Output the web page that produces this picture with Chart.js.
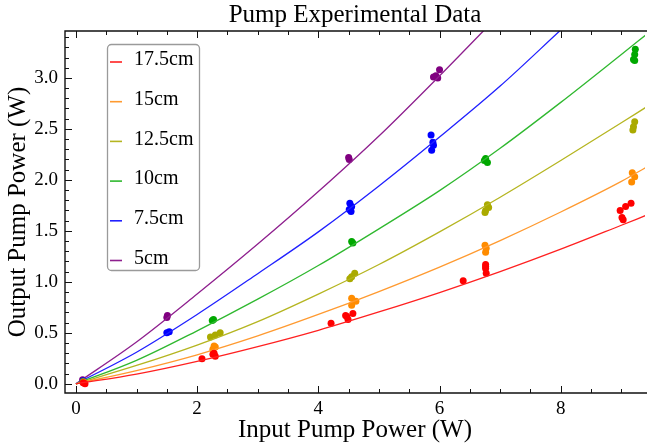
<!DOCTYPE html>
<html lang="en">
<head>
<meta charset="UTF-8" />
<title>Pump Experimental Data</title>
<script src="https://cdn.jsdelivr.net/npm/chart.js"></script>
<style>
  html, body { margin: 0; padding: 0; background: #fff; }
  #wrap { width: 649px; height: 443px; position: relative; }
</style>
</head>
<body>
<div id="wrap"><canvas id="pumpChart"></canvas></div>
<script>
  // series (fibre lengths), colours
  const seriesLabels = ['17.5cm', '15cm', '12.5cm', '10cm', '7.5cm', '5cm'];
  const lineColors  = ['#ff2020', '#ff9a30', '#b5b520', '#2fb82f', '#2020ff', '#8e1f8e'];
  const pointColors = ['#ff0000', '#ff8c00', '#aaaa00', '#00a800', '#0000ff', '#800080'];

  // fitted curves at these input powers
  const fitX = [0, 1, 2, 3, 4, 5, 6, 7, 8, 9, 9.4];
  const fit17_5cm = [0, 0.095, 0.22, 0.365, 0.525, 0.705, 0.895, 1.10, 1.32, 1.555, 1.65];
  const fit15cm   = [0, 0.13, 0.285, 0.47, 0.68, 0.905, 1.145, 1.405, 1.685, 1.985, 2.12];
  const fit12_5cm = [0, 0.18, 0.38, 0.61, 0.88, 1.17, 1.49, 1.83, 2.19, 2.56, 2.71];
  const fit10cm   = [0, 0.23, 0.52, 0.83, 1.16, 1.52, 1.895, 2.31, 2.76, 3.23, 3.42];
  const fit7_5cm  = [0, 0.31, 0.68, 1.08, 1.49, 1.94, 2.42, 2.92, 3.47];
  const fit5cm    = [0, 0.41, 0.88, 1.37, 1.885, 2.43, 3.02, 3.63];

  // measured points [input W, output W]
  const meas17_5cm = [[0.12, 0.01], [0.15, 0.0], [2.08, 0.245], [2.26, 0.29], [2.30, 0.27], [2.28, 0.30],
    [4.21, 0.595], [4.45, 0.67], [4.49, 0.63], [4.57, 0.69], [4.47, 0.66], [6.39, 1.01],
    [6.76, 1.17], [6.76, 1.13], [6.77, 1.085], [6.76, 1.15],
    [9.16, 1.77], [9.07, 1.74], [8.98, 1.70], [9.01, 1.63], [9.03, 1.61]];
  const meas15cm = [[0.14, 0.01], [2.26, 0.34], [2.30, 0.36], [2.28, 0.37],
    [4.55, 0.84], [4.62, 0.81], [4.55, 0.77],
    [6.75, 1.36], [6.77, 1.33], [6.76, 1.29],
    [9.18, 2.07], [9.22, 2.03], [9.17, 1.98]];
  const meas12_5cm = [[0.12, 0.02], [2.22, 0.46], [2.30, 0.48], [2.38, 0.50],
    [4.60, 1.085], [4.55, 1.05], [4.52, 1.03],
    [6.79, 1.755], [6.81, 1.73], [6.76, 1.70], [6.75, 1.68],
    [9.22, 2.57], [9.20, 2.52], [9.19, 2.49]];
  const meas10cm = [[0.12, 0.02], [2.25, 0.62], [2.27, 0.63],
    [4.55, 1.395], [4.57, 1.38],
    [6.76, 2.21], [6.79, 2.17], [6.74, 2.19],
    [9.23, 3.28], [9.22, 3.23], [9.20, 3.18], [9.22, 3.17]];
  const meas7_5cm = [[0.12, 0.03], [1.50, 0.50], [1.54, 0.51],
    [4.52, 1.77], [4.55, 1.74], [4.51, 1.71], [4.54, 1.69],
    [5.86, 2.44], [5.90, 2.34], [5.87, 2.29], [5.89, 2.37]];
  const meas5cm = [[0.11, 0.04], [1.50, 0.65], [1.51, 0.67],
    [4.51, 2.20], [4.50, 2.22],
    [6.00, 3.08], [5.94, 3.02], [5.90, 3.01], [5.97, 3.00]];

  const xTicks = [0, 2, 4, 6, 8];
  const yTicks = [0, 0.5, 1, 1.5, 2, 2.5, 3];

  const fits = [fit17_5cm, fit15cm, fit12_5cm, fit10cm, fit7_5cm, fit5cm];
  const meas = [meas17_5cm, meas15cm, meas12_5cm, meas10cm, meas7_5cm, meas5cm];
  const serif = "'Liberation Serif', 'Times New Roman', serif";

  const datasets = [];
  seriesLabels.forEach((name, i) => {
    datasets.push({
      label: name,
      data: fits[i].map((v, k) => ({ x: fitX[k], y: v })),
      showLine: true,
      borderColor: lineColors[i],
      borderWidth: 1.3,
      pointRadius: 0,
      cubicInterpolationMode: 'monotone',
      fill: false
    });
    datasets.push({
      label: name + ' data',
      data: meas[i].map(p => ({ x: p[0], y: p[1] })),
      showLine: false,
      backgroundColor: pointColors[i],
      borderWidth: 0,
      pointRadius: 3.5
    });
  });

  // Mathematica style frame with inward ticks
  const framePlugin = {
    id: 'frame',
    afterDraw(chart) {
      const { ctx, chartArea: { left, top, right, bottom }, scales: { x, y } } = chart;
      ctx.save();
      ctx.strokeStyle = '#111';
      ctx.lineWidth = 1.4;
      ctx.beginPath();
      ctx.moveTo(right + 2, top); ctx.lineTo(left, top);
      ctx.lineTo(left, bottom); ctx.lineTo(right + 2, bottom);
      ctx.stroke();
      ctx.lineWidth = 1;
      ctx.beginPath();
      for (let k = 0; k * 0.5 <= x.max; k++) {
        const px = Math.round(x.getPixelForValue(k * 0.5)) + 0.5;
        const len = k % 4 === 0 ? 7 : 4;
        ctx.moveTo(px, bottom); ctx.lineTo(px, bottom - len);
        ctx.moveTo(px, top); ctx.lineTo(px, top + len);
      }
      for (let k = 0; k * 0.1 <= y.max; k++) {
        const py = Math.round(y.getPixelForValue(k * 0.1)) + 0.5;
        const len = k % 5 === 0 ? 7 : 4;
        ctx.moveTo(left, py); ctx.lineTo(left + len, py);
      }
      ctx.stroke();
      ctx.restore();
    }
  };

  // boxed legend inside the plot
  const boxLegend = {
    id: 'boxLegend',
    afterDraw(chart) {
      const ctx = chart.ctx;
      const bx = 107, by = 44, bw = 92, bh = 226;
      ctx.save();
      ctx.fillStyle = '#fff';
      ctx.strokeStyle = '#9a9a9a';
      ctx.lineWidth = 1.3;
      ctx.beginPath();
      ctx.roundRect(bx + 0.5, by + 0.5, bw, bh, 4);
      ctx.fill();
      ctx.stroke();
      ctx.font = '20px ' + serif;
      ctx.textBaseline = 'middle';
      seriesLabels.forEach((name, i) => {
        const cy = 62 + i * 39.7;
        ctx.strokeStyle = lineColors[i];
        ctx.lineWidth = 1.6;
        ctx.beginPath();
        ctx.moveTo(110, cy); ctx.lineTo(122, cy);
        ctx.stroke();
        ctx.fillStyle = '#000';
        ctx.fillText(name, 134, cy - 2);
      });
      ctx.restore();
    }
  };

  new Chart(document.getElementById('pumpChart'), {
    type: 'scatter',
    data: { datasets },
    options: {
      responsive: true,
      maintainAspectRatio: false,
      animation: false,
      devicePixelRatio: 1,
      layout: { padding: 0 },
      plugins: {
        legend: { display: false },
        tooltip: { enabled: false },
        title: {
          display: true,
          text: 'Pump Experimental Data',
          fullSize: false,
          color: '#000',
          font: { family: serif, size: 25, weight: 'normal', lineHeight: 1 },
          padding: { top: 3, bottom: 3 }
        }
      },
      scales: {
        x: {
          type: 'linear',
          min: -0.18,
          max: 9.39,
          afterBuildTicks: s => { s.ticks = xTicks.map(v => ({ value: v })); },
          afterFit: s => { s.height = 50; },
          grid: { display: false, drawTicks: false },
          border: { display: false },
          ticks: { color: '#000', padding: 5, font: { family: serif, size: 19 } },
          title: {
            display: true,
            text: 'Input Pump Power (W)',
            color: '#000',
            font: { family: serif, size: 25, lineHeight: 1 },
            padding: { top: 0, bottom: 0 }
          }
        },
        y: {
          type: 'linear',
          min: -0.09,
          max: 3.46,
          afterBuildTicks: s => { s.ticks = yTicks.map(v => ({ value: v })); },
          afterFit: s => { s.width = 65; },
          grid: { display: false, drawTicks: false },
          border: { display: false },
          ticks: {
            color: '#000', padding: 7, font: { family: serif, size: 19 },
            callback: v => v.toFixed(1)
          },
          title: {
            display: true,
            text: 'Output Pump Power (W)',
            color: '#000',
            font: { family: serif, size: 25, lineHeight: 1 },
            padding: { top: 6, bottom: 0 }
          }
        }
      }
    },
    plugins: [framePlugin, boxLegend]
  });
</script>
</body>
</html>
